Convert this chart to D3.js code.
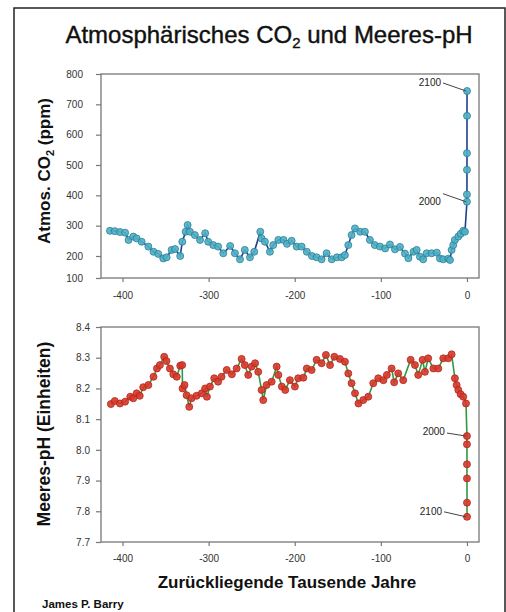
<!DOCTYPE html>
<html>
<head>
<meta charset="utf-8">
<script src="https://cdn.jsdelivr.net/npm/d3@7"></script>
<style>
  body { margin: 0; background: #fff; }
  svg text { font-family: "Liberation Sans", Arial, sans-serif; }
</style>
</head>
<body>
<svg id="chart" width="506" height="612"></svg>
<script>
// time in thousands of years before 2000 (future points slightly > 0)
var co2Kyr = [-414.6,-409,-403,-397,-393,-387.5,-383.6,-377.8,-370,-364,-358.5,-352.7,-348.8,-343,-339,-333,-330.6,-326.7,-324.4,-321.7,
  -316,-310,-304,-300.5,-294.6,-289,-283,-275,-269.5,-263.6,-258,-252,-247,-240,-238.5,-234.6,-228.8,-225,-219,-213,
  -209,-203.6,-197.8,-192,-186,-180,-174.6,-168.8,-163,-157,-151,-145.5,-141.7,-137.8,-134,-130,-124,-118.5,-112.7,-107,
  -101,-95,-89.4,-83.6,-77.8,-72,-68,-62,-58.4,-54.6,-50.8,-46.8,-41,-35,-31.4,-27.5,-21.7,-19.7,-17.8,-15.9,
  -14,-10,-7.3,-4.3,-2.3,0,0.01,0.03,0.04,0.07,0.1];
var co2Ppm = [283,282,279,277,253,264,258,247,231,214,207,189,194,220,223,200,247,280,302,280,
  269,253,275,247,236,231,209,233,209,185,220,194,214,280,258,247,214,236,253,253,
  240,250,231,231,214,200,194,185,209,185,194,194,203,236,269,291,280,280,253,236,
  231,225,238,222,230,208,190,214,220,197,185,209,209,211,189,185,188,182,220,236,
  253,264,273,283,280,379,403,484,539,662,744];

var phKyr = [-413.5,-409,-403,-397,-391,-387.5,-383.6,-380,-376,-370,-364,-360,-356.6,-351.6,-349,-345,-341,-337,-333,-330.7,
  -330.3,-328,-325.6,-322.5,-319.8,-314,-308,-304,-302,-298.5,-293.5,-289,-285,-279,-273,-267.5,-261.7,-258,-254,-250,
  -246,-242.4,-238.5,-236.6,-232.7,-226.8,-221,-219,-215,-211,-205.6,-199.8,-196,-190,-186,-180.4,-174.6,-168.8,-163.8,-159,
  -154,-147.5,-141.7,-137.8,-134,-130,-126,-120.4,-114.6,-108.8,-103,-97,-93,-87.5,-84.5,-79.8,-74,-65.4,-60.4,-56.6,
  -51.5,-48.8,-45,-39,-33.3,-27.5,-21.7,-17.8,-14,-12,-10,-7.3,-4.3,-1.1,0,0.01,0.03,0.04,0.07,0.1];
var phValue = [8.149,8.159,8.151,8.157,8.173,8.168,8.184,8.176,8.204,8.211,8.238,8.265,8.276,8.303,8.289,8.265,8.246,8.238,8.274,8.276,
  8.2,8.211,8.178,8.14,8.168,8.176,8.184,8.2,8.173,8.206,8.233,8.222,8.238,8.26,8.246,8.265,8.296,8.276,8.244,8.271,
  8.282,8.254,8.195,8.162,8.211,8.222,8.271,8.244,8.206,8.195,8.227,8.206,8.233,8.235,8.265,8.26,8.293,8.282,8.309,8.276,
  8.303,8.296,8.287,8.249,8.217,8.184,8.151,8.162,8.173,8.217,8.233,8.227,8.244,8.265,8.22,8.249,8.227,8.293,8.276,8.244,
  8.293,8.254,8.298,8.265,8.265,8.298,8.298,8.311,8.233,8.211,8.195,8.181,8.173,8.151,8.045,8.018,7.953,7.907,7.828,7.782];

var xTicks = [-400, -300, -200, -100, 0];
var co2Ticks = [100, 200, 300, 400, 500, 600, 700, 800];
var phTicks = [7.7, 7.8, 7.9, 8.0, 8.1, 8.2, 8.3, 8.4];
var markedYears = ["2000", "2100"];
var markedKyr = [0, 0.1];

var svg = d3.select("#chart");

// outer border
svg.append("rect").attr("x", 14).attr("y", 8).attr("width", 491).attr("height", 620)
  .attr("fill", "none").attr("stroke", "#222").attr("stroke-width", 1.5);

var x = d3.scaleLinear().domain([-425, 14]).range([101, 479]);
// the original axis squeezes the 100-200 band
var yCo2 = d3.scaleLinear().domain([100, 200, 800]).range([278, 256, 74]);
var yPh = d3.scaleLinear().domain([7.7, 8.4]).range([542, 327]);

function panel(y, ticks, fmt, padLeft, padBottom) {
  var g = svg.append("g");
  var r = y.range();
  g.append("rect")
    .attr("x", x.range()[0]).attr("y", r[r.length - 1])
    .attr("width", x.range()[1] - x.range()[0]).attr("height", r[0] - r[r.length - 1])
    .attr("fill", "none").attr("stroke", "#777").attr("stroke-width", 1.3);

  var ay = g.append("g").attr("transform", "translate(" + x.range()[0] + ",0)")
    .call(d3.axisLeft(y).tickValues(ticks).tickSize(5).tickPadding(padLeft).tickFormat(fmt));
  var ax = g.append("g").attr("transform", "translate(0," + r[0] + ")")
    .call(d3.axisBottom(x).tickValues(xTicks).tickSize(4).tickPadding(padBottom).tickFormat(function (d) { return String(d); }));
  [ay, ax].forEach(function (a) {
    a.select(".domain").remove();
    a.selectAll("line").attr("stroke", "#777").attr("stroke-width", 1.2);
    a.selectAll("text").attr("fill", "#333").style("font-size", "10px");
  });
  return g;
}

panel(yCo2, co2Ticks, function (d) { return String(d); }, 13, 10);
panel(yPh, phTicks, function (d) { return d.toFixed(1); }, 6, 9);

function series(ts, vs, y, lineColor, fill, edge) {
  var pts = ts.map(function (t, i) { return [t, vs[i]]; });
  var line = d3.line().x(function (d) { return x(d[0]); }).y(function (d) { return y(d[1]); });
  svg.append("path").datum(pts).attr("d", line)
    .attr("fill", "none").attr("stroke", lineColor).attr("stroke-width", 1.6);
  svg.append("g").selectAll("circle").data(pts).join("circle")
    .attr("cx", function (d) { return x(d[0]); })
    .attr("cy", function (d) { return y(d[1]); })
    .attr("r", 3.5)
    .attr("fill", fill).attr("fill-opacity", 0.9)
    .attr("stroke", edge).attr("stroke-width", 0.8);
  return pts;
}

var co2Pts = series(co2Kyr, co2Ppm, yCo2, "#1d3f8c", "#4fb0c6", "#2b7f93");
var phPts = series(phKyr, phValue, yPh, "#2f9a45", "#d8372a", "#b1261b");

// year callouts
function callouts(pts, y, offsets) {
  markedYears.forEach(function (label, i) {
    var p = pts.find(function (d) { return d[0] === markedKyr[i]; });
    var px = x(p[0]), py = y(p[1]), o = offsets[i];
    svg.append("line")
      .attr("x1", px + o[0]).attr("y1", py + o[1]).attr("x2", px - 1).attr("y2", py)
      .attr("stroke", "#444").attr("stroke-width", 1);
    svg.append("text")
      .attr("x", px + o[0] - 2).attr("y", py + o[1] + o[2])
      .attr("text-anchor", "end").attr("fill", "#222")
      .style("font-size", "10px").text(label);
  });
}
callouts(co2Pts, yCo2, [[-24, -8, 11], [-24, -8, 3]]);
callouts(phPts, yPh, [[-20, -3, 2], [-23, -5, 3]]);

// titles
var title = svg.append("text").attr("x", 269).attr("y", 43).attr("text-anchor", "middle")
  .attr("fill", "#111").attr("stroke", "#111").attr("stroke-width", 0.4)
  .style("font-size", "24px");
title.append("tspan").text("Atmosphärisches CO");
title.append("tspan").attr("dy", 5).style("font-size", "15px").text("2");
title.append("tspan").attr("dy", -5).text(" und Meeres-pH");

var t1 = svg.append("text").attr("transform", "translate(50,171) rotate(-90)")
  .attr("text-anchor", "middle").attr("fill", "#111")
  .style("font-size", "17px").style("font-weight", "bold");
t1.append("tspan").text("Atmos. CO");
t1.append("tspan").attr("dy", 4).style("font-size", "11px").text("2");
t1.append("tspan").attr("dy", -4).text(" (ppm)");

svg.append("text").attr("transform", "translate(50,434) rotate(-90)")
  .attr("text-anchor", "middle").attr("fill", "#111")
  .style("font-size", "17.5px").style("font-weight", "bold")
  .text("Meeres-pH (Einheiten)");

svg.append("text").attr("x", 287).attr("y", 588).attr("text-anchor", "middle")
  .attr("fill", "#111").style("font-size", "17px").style("font-weight", "bold")
  .text("Zurückliegende Tausende Jahre");

svg.append("text").attr("x", 42).attr("y", 608).attr("fill", "#111")
  .style("font-size", "11.5px").style("font-weight", "bold")
  .text("James P. Barry");
</script>
</body>
</html>
